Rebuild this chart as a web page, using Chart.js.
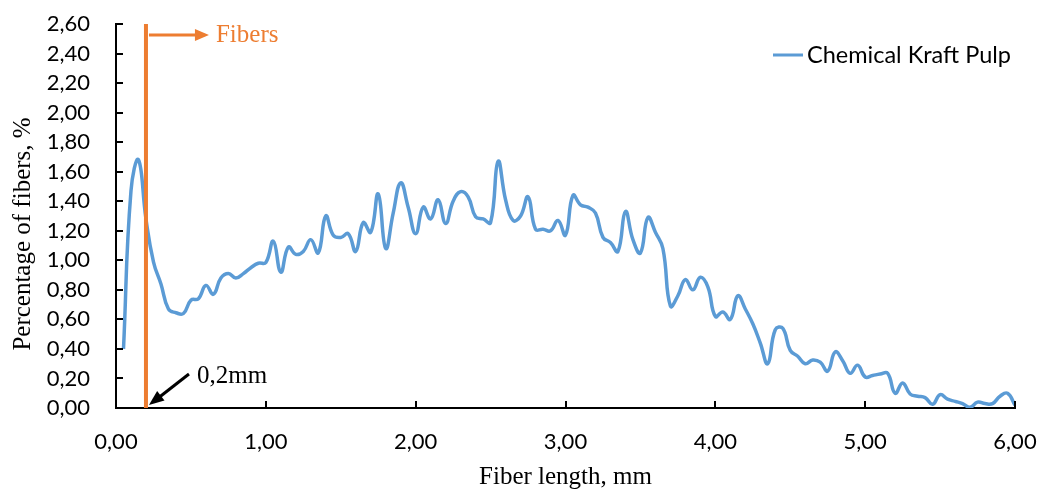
<!DOCTYPE html>
<html>
<head>
<meta charset="utf-8">
<script src="https://cdn.jsdelivr.net/npm/chart.js@4/dist/chart.umd.min.js"></script>
<style>
  html, body { margin: 0; padding: 0; background: #fff; }
  #wrap { width: 1040px; height: 492px; }
</style>
</head>
<body>
<div id="wrap"><canvas id="c" width="1040" height="492"></canvas></div>
<script>
// Fiber length classes (mm)
const lengths = [
  0.05, 0.10, 0.15, 0.20, 0.25, 0.30, 0.35, 0.40, 0.45, 0.50,
  0.55, 0.60, 0.65, 0.70, 0.75, 0.80, 0.85, 0.90, 0.95, 1.00,
  1.05, 1.10, 1.15, 1.20, 1.25, 1.30, 1.35, 1.40, 1.45, 1.50,
  1.55, 1.60, 1.65, 1.70, 1.75, 1.80, 1.85, 1.90, 1.95, 2.00,
  2.05, 2.10, 2.15, 2.20, 2.25, 2.30, 2.35, 2.40, 2.45, 2.50,
  2.55, 2.60, 2.65, 2.70, 2.75, 2.80, 2.85, 2.90, 2.95, 3.00,
  3.05, 3.10, 3.15, 3.20, 3.25, 3.30, 3.35, 3.40, 3.45, 3.50,
  3.55, 3.60, 3.65, 3.70, 3.75, 3.80, 3.85, 3.90, 3.95, 4.00,
  4.05, 4.10, 4.15, 4.20, 4.25, 4.30, 4.35, 4.40, 4.45, 4.50,
  4.55, 4.60, 4.65, 4.70, 4.75, 4.80, 4.85, 4.90, 4.95, 5.00,
  5.05, 5.10, 5.15, 5.20, 5.25, 5.30, 5.35, 5.40, 5.45, 5.50,
  5.55, 5.60, 5.65, 5.70, 5.75, 5.80, 5.85, 5.90, 5.95, 6.00
];

// Percentage of fibers in each length class (%)
const kraftPulp = [
  0.40, 1.47, 1.68, 1.28, 0.99, 0.84, 0.67, 0.645, 0.64, 0.73,
  0.74, 0.83, 0.77, 0.88, 0.91, 0.88, 0.91, 0.95, 0.98, 0.985,
  1.13, 0.92, 1.09, 1.04, 1.06, 1.14, 1.05, 1.30, 1.17, 1.155,
  1.18, 1.06, 1.255, 1.19, 1.45, 1.08, 1.32, 1.525, 1.36, 1.18,
  1.36, 1.28, 1.41, 1.25, 1.40, 1.465, 1.43, 1.295, 1.28, 1.255,
  1.67, 1.41, 1.27, 1.30, 1.43, 1.21, 1.21, 1.20, 1.27, 1.17,
  1.44, 1.375, 1.36, 1.32, 1.155, 1.12, 1.06, 1.33, 1.14, 1.05,
  1.29, 1.19, 1.08, 0.69, 0.76, 0.87, 0.80, 0.885, 0.82, 0.62,
  0.65, 0.60, 0.76, 0.67, 0.57, 0.44, 0.30, 0.53, 0.54, 0.39,
  0.35, 0.30, 0.325, 0.31, 0.25, 0.38, 0.32, 0.235, 0.29, 0.21,
  0.22, 0.23, 0.235, 0.10, 0.17, 0.095, 0.08, 0.07, 0.025, 0.09,
  0.06, 0.045, 0.03, 0.005, 0.04, 0.03, 0.03, 0.08, 0.10, 0.02
];

const seriesName = 'Chemical Kraft Pulp';
const xTickValues = [0, 1, 2, 3, 4, 5, 6];
const yTickValues = [0, 0.2, 0.4, 0.6, 0.8, 1.0, 1.2, 1.4, 1.6, 1.8, 2.0, 2.2, 2.4, 2.6];
const cutoffLength = 0.2;   // fines / fibers boundary, mm
const cutoffLabel = '0,2mm';
const fibersLabel = 'Fibers';
const xTitle = 'Fiber length, mm';
const yTitle = 'Percentage of fibers, %';

const BLUE = '#5B9BD5';
const ORANGE = '#ED7D31';
const SANS = 'Lato';
const SERIF = 'Liberation Serif';

const commaFmt = v => Number(v).toFixed(2).replace('.', ',');

const points = lengths.map((l, i) => ({ x: l, y: kraftPulp[i] }));

function arrowHead(ctx, x1, y1, x2, y2, len, half) {
  const a = Math.atan2(y2 - y1, x2 - x1);
  ctx.beginPath();
  ctx.moveTo(x2, y2);
  ctx.lineTo(x2 - len * Math.cos(a) + half * Math.sin(a), y2 - len * Math.sin(a) - half * Math.cos(a));
  ctx.lineTo(x2 - len * Math.cos(a) - half * Math.sin(a), y2 - len * Math.sin(a) + half * Math.cos(a));
  ctx.closePath();
  ctx.fill();
}

// Short tick marks pointing into the plot area
const insideTicks = {
  id: 'insideTicks',
  afterDraw(chart) {
    const { ctx, chartArea, scales: { x, y } } = chart;
    ctx.save();
    ctx.strokeStyle = '#000';
    ctx.lineWidth = 2;
    x.ticks.forEach(t => {
      const px = Math.round(x.getPixelForValue(t.value));
      ctx.beginPath();
      ctx.moveTo(px, chartArea.bottom);
      ctx.lineTo(px, chartArea.bottom - 7);
      ctx.stroke();
    });
    y.ticks.forEach(t => {
      const py = Math.round(y.getPixelForValue(t.value));
      ctx.beginPath();
      ctx.moveTo(chartArea.left, py);
      ctx.lineTo(chartArea.left + 7, py);
      ctx.stroke();
    });
    ctx.restore();
  }
};

// Rotated y title, cutoff marker with its arrows, and the legend entry
const annotations = {
  id: 'annotations',
  afterDraw(chart) {
    const { ctx, scales: { x, y } } = chart;
    ctx.save();

    // y axis title
    ctx.save();
    ctx.translate(23, 234);
    ctx.rotate(-Math.PI / 2);
    ctx.fillStyle = '#000';
    ctx.font = `25px "${SERIF}"`;
    ctx.textAlign = 'center';
    ctx.textBaseline = 'middle';
    ctx.fillText(yTitle, 0, 0);
    ctx.restore();

    // vertical cutoff line
    const cx = x.getPixelForValue(cutoffLength);
    const yTop = y.getPixelForValue(2.6);
    const yBot = y.getPixelForValue(0);
    ctx.strokeStyle = ORANGE;
    ctx.lineWidth = 4;
    ctx.beginPath();
    ctx.moveTo(cx, yTop);
    ctx.lineTo(cx, yBot);
    ctx.stroke();

    // "Fibers" arrow
    const ay = yTop + 11;
    ctx.lineWidth = 3;
    ctx.fillStyle = ORANGE;
    ctx.beginPath();
    ctx.moveTo(cx + 3, ay);
    ctx.lineTo(cx + 52, ay);
    ctx.stroke();
    arrowHead(ctx, cx + 3, ay, cx + 63, ay, 14, 6);
    ctx.font = `25px "${SERIF}"`;
    ctx.textAlign = 'left';
    ctx.textBaseline = 'middle';
    ctx.fillText(fibersLabel, cx + 70, ay);

    // "0,2mm" pointer
    ctx.strokeStyle = '#000';
    ctx.fillStyle = '#000';
    ctx.lineWidth = 3;
    const tipX = cx + 3, tipY = yBot - 3;
    const tailX = cx + 43, tailY = yBot - 34;
    ctx.beginPath();
    ctx.moveTo(tailX, tailY);
    ctx.lineTo(tipX + 8, tipY - 6);
    ctx.stroke();
    arrowHead(ctx, tailX, tailY, tipX, tipY, 15, 6);
    ctx.fillText(cutoffLabel, cx + 51, yBot - 32);

    // legend
    const ds = chart.data.datasets[0];
    ctx.strokeStyle = ds.borderColor;
    ctx.lineWidth = 3;
    ctx.beginPath();
    ctx.moveTo(773, 55);
    ctx.lineTo(803, 55);
    ctx.stroke();
    ctx.fillStyle = '#000';
    ctx.font = `23.5px "${SANS}"`;
    ctx.textBaseline = 'middle';
    ctx.fillText(ds.label, 807, 55);

    ctx.restore();
  }
};

new Chart(document.getElementById('c'), {
  type: 'line',
  data: {
    datasets: [{
      label: seriesName,
      data: points,
      borderColor: BLUE,
      borderWidth: 3.5,
      pointRadius: 0,
      tension: 0.45,
      fill: false
    }]
  },
  options: {
    responsive: false,
    animation: false,
    devicePixelRatio: 1,
    layout: { padding: { top: 24, right: 25, left: 0, bottom: 0 } },
    plugins: { legend: { display: false }, tooltip: { enabled: false } },
    scales: {
      x: {
        type: 'linear',
        min: 0,
        max: 6,
        afterBuildTicks: s => { s.ticks = xTickValues.map(v => ({ value: v })); },
        afterFit: s => { s.height = 84; s.paddingLeft = 0; s.paddingRight = 0; },
        grid: { display: false, drawTicks: false },
        border: { display: true, color: '#000', width: 2 },
        ticks: {
          padding: 21,
          color: '#000',
          font: { family: SANS, size: 22 },
          maxRotation: 0,
          callback: v => commaFmt(v)
        },
        title: {
          display: true,
          text: xTitle,
          color: '#000',
          font: { family: SERIF, size: 25 },
          padding: { top: 0, bottom: 0 }
        }
      },
      y: {
        type: 'linear',
        min: 0,
        max: 2.6,
        afterBuildTicks: s => { s.ticks = yTickValues.map(v => ({ value: v })); },
        afterFit: s => { s.width = 116; s.paddingTop = 0; s.paddingBottom = 0; },
        grid: { display: false, drawTicks: false },
        border: { display: true, color: '#000', width: 2 },
        ticks: {
          padding: 26,
          color: '#000',
          font: { family: SANS, size: 22 },
          callback: v => commaFmt(v)
        }
      }
    }
  },
  plugins: [insideTicks, annotations]
});
</script>
</body>
</html>
